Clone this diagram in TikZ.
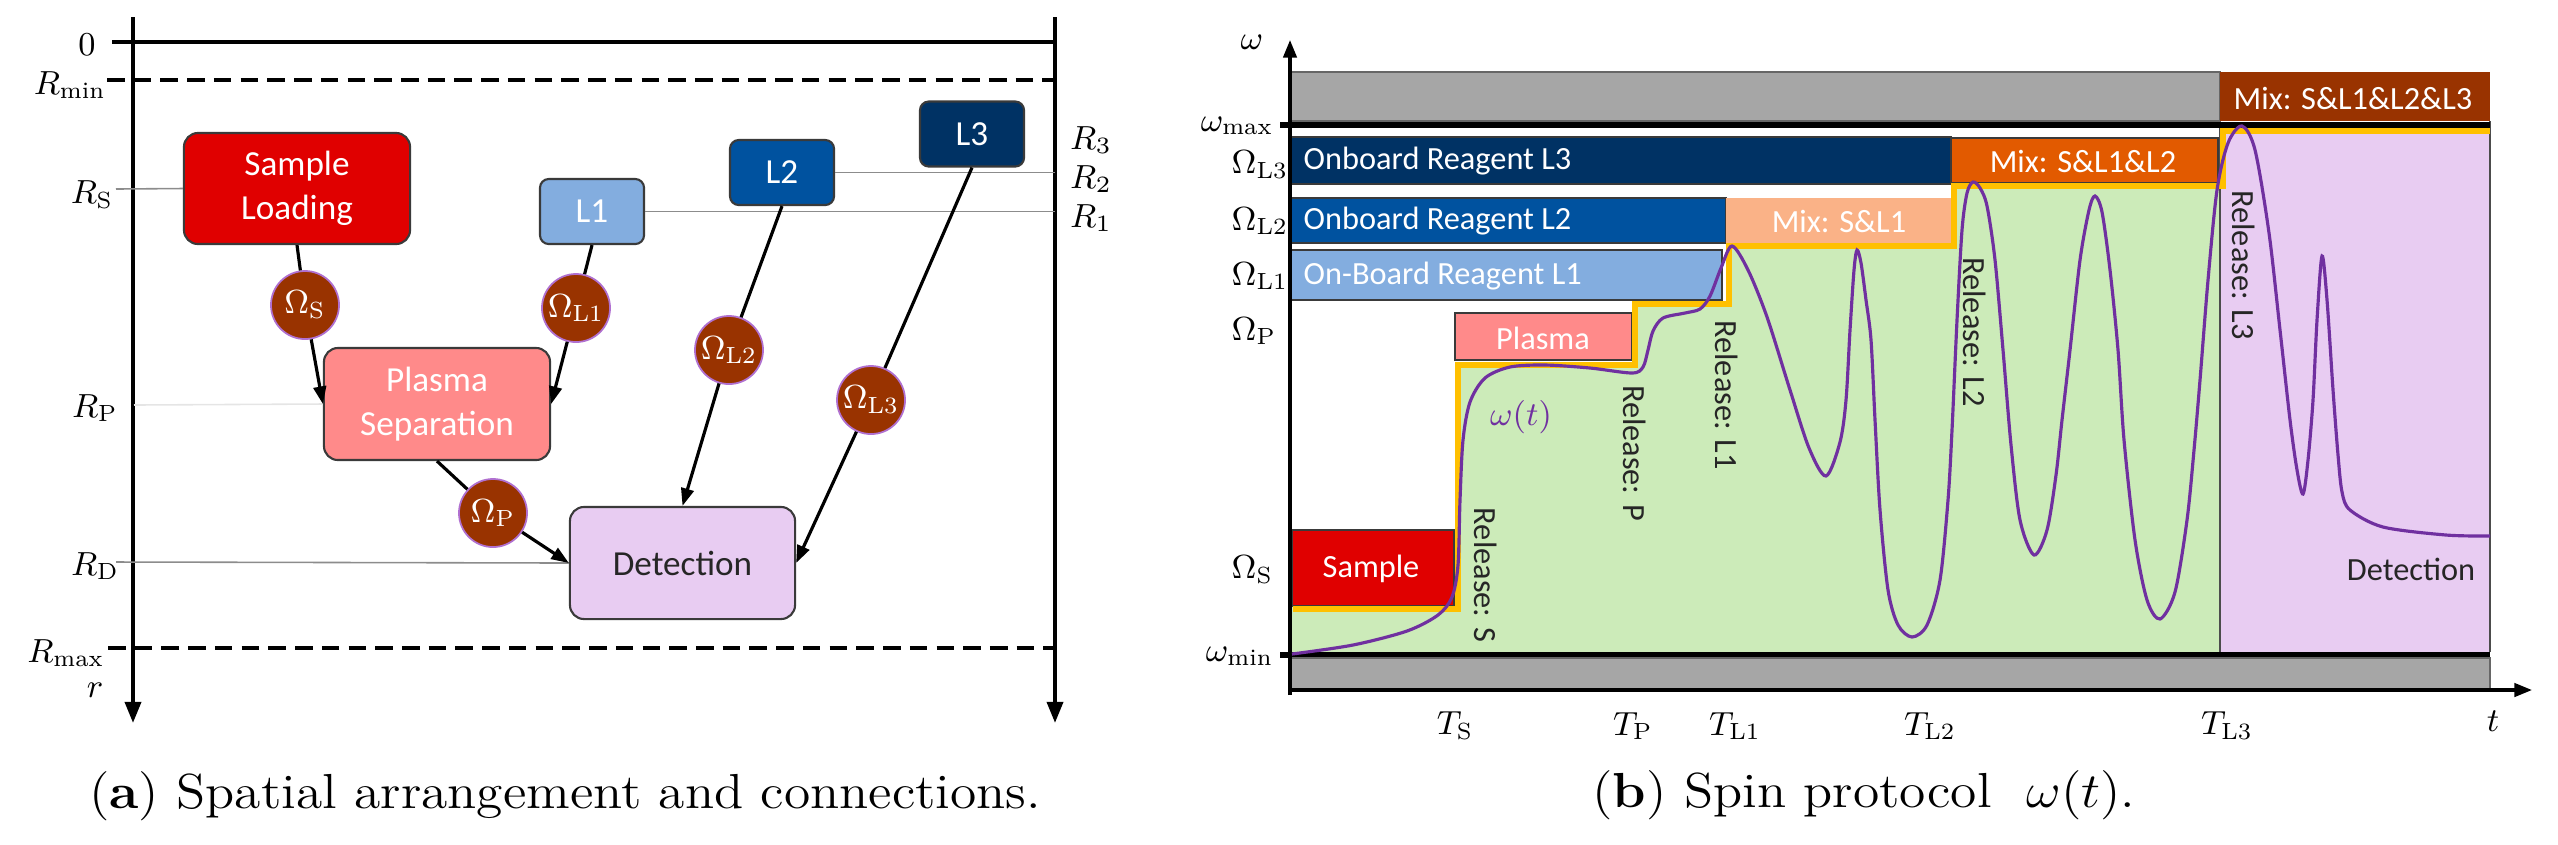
\RequirePackage{fix-cm}
\documentclass[tikz,border=0pt]{standalone}
\usepackage{graphicx}
\usepackage{fontspec}
\newfontfamily\carl{Carlito}
\usetikzlibrary{arrows.meta}
\definecolor{cRed}{HTML}{E00000}
\definecolor{cPlasma}{HTML}{FF8A8A}
\definecolor{cLone}{HTML}{83ADDF}
\definecolor{cLtwo}{HTML}{00529F}
\definecolor{cLthree}{HTML}{003264}
\definecolor{cBrown}{HTML}{993300}
\definecolor{cPeach}{HTML}{FAB287}
\definecolor{cOrange}{HTML}{E25A00}
\definecolor{cGray}{HTML}{A6A6A6}
\definecolor{cGreen}{HTML}{CCEBB9}
\definecolor{cLav}{HTML}{E8CCF2}
\definecolor{cYellow}{HTML}{FFC000}
\definecolor{cCurve}{HTML}{7030A0}
\definecolor{cEdge}{HTML}{3A3A3A}
\definecolor{cHalo}{HTML}{B070D0}
\newcommand{\bxfont}{\carl\fontsize{10pt}{12.5pt}\selectfont}
\newcommand{\barfont}{\carl\fontsize{9.2pt}{11pt}\selectfont}
\newcommand{\mlabfont}{\fontsize{9.5pt}{11pt}\selectfont}
\newcommand{\capfont}{\fontsize{14pt}{16pt}\selectfont}
\begin{document}
\begin{tikzpicture}[x=0.01cm,y=-0.01cm,
  box/.style={draw=cEdge,line width=0.6pt,rounded corners=4pt,inner sep=0pt,align=center,text=white,font=\bxfont},
  smallbox/.style={box,rounded corners=2.5pt,minimum width=1.04cm,minimum height=0.65cm},
  omc/.style={circle,fill=cBrown,draw=cHalo,line width=0.5pt,minimum size=0.68cm,inner sep=0pt,text=white,font=\mlabfont},
  ln/.style={line width=0.9pt},
  arr/.style={line width=0.9pt,-{Triangle[length=5pt,width=3.6pt]}},
  axis/.style={line width=1.15pt},
  axarr/.style={line width=1.15pt,-{Triangle[length=6pt,width=4.5pt]}},
  baxarr/.style={line width=0.9pt,-{Triangle[length=5pt,width=3.8pt]}},
  dash line/.style={line width=1.4pt,dash pattern=on 5pt off 2.6pt},
  guide/.style={line width=0.45pt,draw=black!45},
  mlab/.style={font=\mlabfont,inner sep=0pt},
  bartext/.style={font=\barfont,text=white,inner sep=0pt},
  rel/.style={font=\barfont,text=black!85,rotate=-90,inner sep=0pt},
  barfill/.style={draw=cEdge,line width=0.4pt},
  heavy/.style={line width=1.7pt},
  curve/.style={draw=cCurve,line width=0.9pt},
  ]
\useasboundingbox (0,0) rectangle (2558,844);

% ---------------- panel (a) ----------------
\coordinate (aLt) at (133,17); \coordinate (aLb) at (133,723);
\coordinate (aRt) at (1055,17); \coordinate (aRb) at (1055,723);
\coordinate (zL) at (112,42); \coordinate (zR) at (1055,42);
\coordinate (mnL) at (107,80); \coordinate (mnR) at (1057,80);
\coordinate (mxL) at (108,648); \coordinate (mxR) at (1057,648);
\draw[axarr] (aLt) -- (aLb);
\draw[axarr] (aRt) -- (aRb);
\draw[axis] (zL) -- (zR);
\draw[dash line] (mnL) -- (mnR);
\draw[dash line] (mxL) -- (mxR);

\node[mlab] (l0) at (87,45) {$0$};
\node[mlab] (lRmin) at (70,85) {$R_{\mathrm{min}}$};
\node[mlab] (lRS) at (92,195) {$R_{\mathrm{S}}$};
\node[mlab] (lRP) at (95,408) {$R_{\mathrm{P}}$};
\node[mlab] (lRD) at (95,566) {$R_{\mathrm{D}}$};
\node[mlab] (lRmax) at (66,653) {$R_{\mathrm{max}}$};
\node[mlab] (lr) at (95,690) {$r$};
\node[mlab] (lR3) at (1091,140) {$R_3$};
\node[mlab] (lR2) at (1091,179) {$R_2$};
\node[mlab] (lR1) at (1091,218) {$R_1$};

\node[box,fill=cRed,minimum width=2.26cm,minimum height=1.11cm] (sample) at (297,188.5) {Sample\\Loading};
\node[smallbox,fill=cLone] (L1) at (592,211.5) {L1};
\node[smallbox,fill=cLtwo] (L2) at (782,172.5) {L2};
\node[smallbox,fill=cLthree] (L3) at (972,134) {L3};
\node[box,fill=cPlasma,minimum width=2.26cm,minimum height=1.12cm] (plasma) at (437,404) {Plasma\\Separation};
\node[box,fill=cLav,text=black!85,minimum width=2.25cm,minimum height=1.12cm] (det) at (682.5,563) {Detection};

\coordinate (gS) at (116,189);
\coordinate (gP) at (134,405);
\coordinate (gD) at (116,562);
\draw[guide] (gS) -- (sample.west);
\draw[guide,draw=black!10] (gP) -- (plasma.west);
\draw[guide] (gD) -- (det.west);
\draw[guide] (L1.east) -- (L1.east -| aRt);
\draw[guide] (L2.east) -- (L2.east -| aRt);

\node[omc] (omS) at (305,305) {$\Omega_{\mathrm{S}}$};
\node[omc] (omLa) at (576,308) {$\Omega_{\mathrm{L1}}$};
\node[omc] (omLb) at (729,350) {$\Omega_{\mathrm{L2}}$};
\node[omc] (omLc) at (871,400) {$\Omega_{\mathrm{L3}}$};
\node[omc] (omP) at (493,513) {$\Omega_{\mathrm{P}}$};

\draw[ln] (sample.south) -- (omS);
\draw[arr] (omS) -- (plasma.west);
\draw[ln] (L1.south) -- (omLa);
\draw[arr] (omLa) -- (plasma.east);
\draw[ln] (plasma.south) -- (omP);
\draw[arr] (omP) -- (det.west);
\draw[ln] (L2.south) -- (omLb);
\draw[arr] (omLb) -- (det.north);
\draw[ln] (L3.south) -- (omLc);
\draw[arr] (omLc) -- (det.east);

\node[anchor=base,inner sep=0pt] (capa) at (565,808) {\scalebox{1.088}[1]{\capfont (\textbf{a}) Spatial arrangement and connections.}};

% ---------------- panel (b) ----------------
\filldraw[fill=cGray,draw=black!60,line width=0.4pt] (1290,72) rectangle (2220,121);
\fill[cBrown] (2220,72) rectangle (2490,121);
\filldraw[fill=cLthree,barfill] (1290,137) rectangle (1951,184);
\filldraw[fill=cOrange,barfill] (1951,138) rectangle (2218,183);
\filldraw[fill=cLtwo,barfill] (1290,198) rectangle (1726,243);
\fill[cPeach] (1726,198) rectangle (1951,243);
\filldraw[fill=cLone,barfill] (1290,250) rectangle (1722,300);
\fill[cGreen] (1292,606) -- (1455,606) -- (1455,362) -- (1632,362) -- (1632,301) -- (1726,301) -- (1726,243) -- (1951,243) -- (1951,183) -- (2220,183) -- (2220,652) -- (1292,652) -- cycle;
\fill[cLav] (2220,128) rectangle (2490,652);
\draw[line width=0.5pt,black!70] (2220,128) -- (2220,652);
\draw[line width=0.5pt,black!70] (2490,121) -- (2490,652);
\filldraw[fill=cPlasma,barfill] (1455,313) rectangle (1632,360);
\filldraw[fill=cRed,barfill] (1292,530) rectangle (1454,606);
\draw[heavy,cYellow,line join=miter] (1293,609) -- (1458,609) -- (1458,365) -- (1635,365) -- (1635,304) -- (1729,304) -- (1729,246) -- (1954,246) -- (1954,186) -- (2223,186) -- (2223,131) -- (2490,131);
\draw[heavy] (1280,125) -- (2490,125);
\draw[heavy] (1280,655) -- (2490,655);
\filldraw[fill=cGray,draw=black!60,line width=0.4pt] (1290,658) rectangle (2490,690);
\draw[baxarr] (1290,695) -- (1290,40);
\draw[baxarr] (1290,690) -- (2532,690);

\node[bartext] (mixc) at (2353,98) {Mix: S\&L1\&L2\&L3};
\node[bartext,anchor=west] (tL3) at (1303,161) {Onboard Reagent L3};
\node[bartext] (mixb) at (2083,161) {Mix: S\&L1\&L2};
\node[bartext,anchor=west] (tL2) at (1303,221) {Onboard Reagent L2};
\node[bartext] (mixa) at (1839,221) {Mix: S\&L1};
\node[bartext,anchor=west] (tL1) at (1303,276) {On-Board Reagent L1};
\node[bartext] (tP) at (1543,338) {Plasma};
\node[bartext] (tS) at (1371,569) {Sample};
\node[font=\barfont,text=black!85,inner sep=0pt] (tD) at (2411,569) {Detection};

\node[rel] (rS) at (1486,575) {Release: S};
\node[rel] (rP) at (1635,453) {Release: P};
\node[rel] (rL1) at (1727,395) {Release: L1};
\node[rel] (rL2) at (1975,332) {Release: L2};
\node[rel] (rL3) at (2244,265) {Release: L3};

\draw[curve] plot[smooth,tension=0.5] coordinates {
(1292,654) (1353,645) (1407,631) (1438,615) (1452,597) (1458,565) (1460,500) (1463,440)
(1470,402) (1485,378) (1510,367) (1545,365) (1590,368) (1632,373) (1643,367) (1648,350)
(1653,331) (1663,318) (1685,313) (1700,309) (1710,296) (1721,268) (1732,246) (1748,270)
(1767,317) (1790,390) (1809,448) (1826,476) (1840,442) (1846,400) (1850,330) (1854,270)
(1857,250) (1861,263) (1866,300) (1871,340) (1875,420) (1880,510) (1888,590) (1898,625)
(1912,637) (1927,625) (1940,580) (1948,500) (1952,430) (1957,320) (1962,230) (1967,193)
(1973,182) (1980,188) (1987,206) (1995,260) (2003,350) (2011,445) (2020,520) (2034,555)
(2047,530) (2056,475) (2062,420) (2070,350) (2080,260) (2089,210) (2095,196) (2102,212)
(2110,270) (2118,350) (2124,440) (2135,540) (2147,600) (2160,619) (2175,592) (2187,520)
(2194,450) (2200,380) (2208,280) (2217,190) (2228,143) (2242,126) (2255,150) (2269,233)
(2280,330) (2290,420) (2297,470) (2303,494) (2308,460) (2313,400) (2317,320) (2322,256)
(2327,300) (2333,390) (2338,455) (2342,492) (2350,510) (2383,527) (2446,535) (2490,536)};
\node[font=\mlabfont,text=cCurve,inner sep=0pt] (wt) at (1521,417) {$\omega(t)$};

\node[mlab] (lw) at (1252,42) {$\omega$};
\node[mlab,anchor=east] (lwmax) at (1274,126) {$\omega_{\mathrm{max}}$};
\node[mlab,anchor=east] (lwmin) at (1274,656) {$\omega_{\mathrm{min}}$};
\node[mlab,anchor=west] (lOL3) at (1231,165) {$\Omega_{\mathrm{L3}}$};
\node[mlab,anchor=west] (lOL2) at (1231,221) {$\Omega_{\mathrm{L2}}$};
\node[mlab,anchor=west] (lOL1) at (1231,276) {$\Omega_{\mathrm{L1}}$};
\node[mlab,anchor=west] (lOP) at (1231,331) {$\Omega_{\mathrm{P}}$};
\node[mlab,anchor=west] (lOS) at (1231,570) {$\Omega_{\mathrm{S}}$};

\node[mlab] (lTS) at (1455,726) {$T_{\mathrm{S}}$};
\node[mlab] (lTP) at (1633,726) {$T_{\mathrm{P}}$};
\node[mlab] (lTL1) at (1735,726) {$T_{\mathrm{L1}}$};
\node[mlab] (lTL2) at (1930,726) {$T_{\mathrm{L2}}$};
\node[mlab] (lTL3) at (2227,726) {$T_{\mathrm{L3}}$};
\node[mlab] (lt) at (2493,721) {$t$};

\node[anchor=base,inner sep=0pt] (capb) at (1864,807) {\scalebox{1.088}[1]{\capfont (\textbf{b}) Spin protocol~ $\omega(t)$.}};
\end{tikzpicture}
\end{document}
